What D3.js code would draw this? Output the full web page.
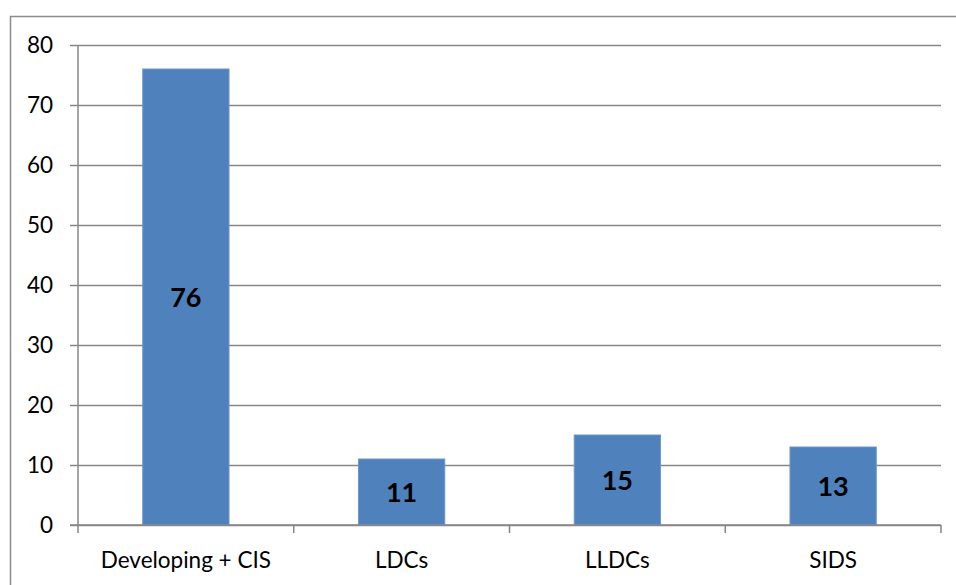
<!DOCTYPE html>
<html>
<head>
<meta charset="utf-8">
<script src="https://cdn.jsdelivr.net/npm/d3@7"></script>
<style>
	body { margin:0; background:#fff; }
	svg { display:block; font-family: Lato, "Open Sans", sans-serif; }
</style>
</head>
<body>
<div id="viz-container"></div>
<script>
// chart data
var categories = ["Developing + CIS", "LDCs", "LLDCs", "SIDS"];
var values = [76, 11, 15, 13];
var yTicks = [0, 10, 20, 30, 40, 50, 60, 70, 80];

var width = 956, height = 585;
var margin = {top:45, right:15, bottom:60, left:78};

var svg = d3.select('#viz-container')
	.append('svg')
		.attr('width', width)
		.attr('height', height);

// outer frame
svg.append('rect')
	.attr('x', 10.5).attr('y', 16.5)
	.attr('width', 950).attr('height', 600)
	.attr('fill', 'none')
	.attr('stroke', '#8c8c8c')
	.attr('stroke-width', 1.5);

var xScale = d3.scaleBand()
	.domain(categories)
	.range([margin.left, 941])
	.paddingInner(0.6)
	.paddingOuter(0.3);

var yScale = d3.scaleLinear()
	.domain([0, 80])
	.range([525, 45]);

// gridlines + y axis ticks
var yAxis = d3.axisLeft(yScale)
	.tickValues(yTicks)
	.tickSize(-(941 - margin.left))
	.tickSizeOuter(0)
	.tickPadding(0);

var gy = svg.append('g')
	.attr('class', 'y axis')
	.attr('transform', 'translate(' + margin.left + ',0)')
	.call(yAxis)
	.attr('font-family', 'Lato, "Open Sans", sans-serif')
	.attr('font-size', 22.5);

gy.select('.domain').remove();
gy.selectAll('.tick line')
	.attr('x1', -8)
	.attr('stroke', '#868686')
	.attr('stroke-width', 1.5);
gy.selectAll('.tick text')
	.attr('x', -25)
	.attr('fill', '#000');

// y axis line
svg.append('line')
	.attr('x1', margin.left).attr('x2', margin.left)
	.attr('y1', 45).attr('y2', 525)
	.attr('stroke', '#868686')
	.attr('stroke-width', 1.5);

// bars
svg.selectAll('rect.bar')
	.data(values)
	.enter()
	.append('rect')
	.attr('class', 'bar')
	.attr('x', function(d, i){ return xScale(categories[i]); })
	.attr('y', function(d){ return yScale(d); })
	.attr('width', xScale.bandwidth())
	.attr('height', function(d){ return yScale(0) - yScale(d); })
	.attr('fill', '#4f81bd')
	.attr('stroke', '#6f97c8')
	.attr('stroke-width', 1);

// x axis line + boundary ticks
var bounds = d3.range(categories.length + 1).map(function(i){ return margin.left + i * (941 - margin.left) / categories.length; });

svg.append('line')
	.attr('x1', margin.left - 8).attr('x2', 941)
	.attr('y1', 525).attr('y2', 525)
	.attr('stroke', '#868686')
	.attr('stroke-width', 1.5);

svg.selectAll('line.xtick')
	.data(bounds)
	.enter()
	.append('line')
	.attr('class', 'xtick')
	.attr('x1', function(d){ return d; })
	.attr('x2', function(d){ return d; })
	.attr('y1', 525).attr('y2', 533)
	.attr('stroke', '#868686')
	.attr('stroke-width', 1.5);

// category labels
svg.selectAll('text.cat')
	.data(categories)
	.enter()
	.append('text')
	.attr('class', 'cat')
	.attr('x', function(d){ return xScale(d) + xScale.bandwidth() / 2; })
	.attr('y', 568)
	.attr('text-anchor', 'middle')
	.style('font-size', '22.5px')
	.text(function(d){ return d; });

// value labels
svg.selectAll('text.val')
	.data(values)
	.enter()
	.append('text')
	.attr('class', 'val')
	.attr('x', function(d, i){ return xScale(categories[i]) + xScale.bandwidth() / 2; })
	.attr('y', function(d){ return (yScale(d) + yScale(0)) / 2; })
	.attr('dy', '0.36em')
	.attr('text-anchor', 'middle')
	.style('font-size', '27px')
	.style('font-weight', 'bold')
	.text(function(d){ return d; });
</script>
</body>
</html>
